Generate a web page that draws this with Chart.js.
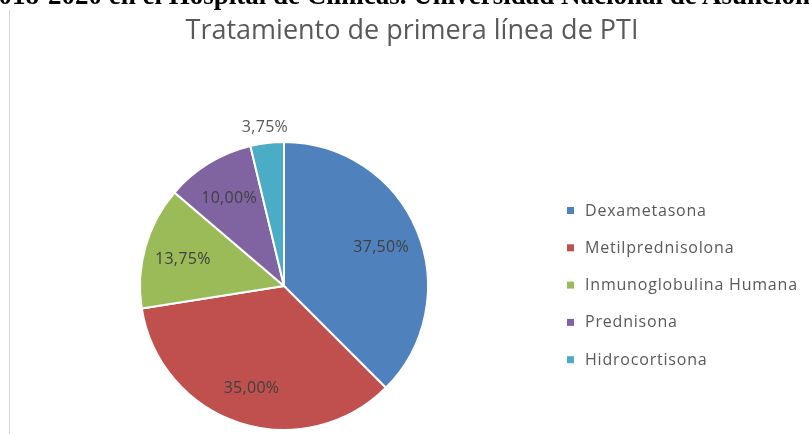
<!DOCTYPE html>
<html>
<head>
<meta charset="utf-8">
<script src="https://cdn.jsdelivr.net/npm/chart.js@4/dist/chart.umd.min.js"></script>
<style>
  html, body { margin: 0; padding: 0; background: #fff; overflow: hidden; }
  #wrap { position: relative; width: 809px; height: 434px; overflow: hidden; }
  #caption {
    position: absolute; left: -15px; top: -18px; white-space: nowrap;
    font-family: "Liberation Serif", "DejaVu Serif", serif; font-weight: bold;
    font-size: 27px; line-height: 26px; color: #000;
  }
  #rule { position: absolute; left: 9px; top: 10px; width: 1px; height: 424px; background: #d4d4d4; }
  canvas { position: absolute; left: 0; top: 0; }
</style>
</head>
<body>
<div id="wrap">
  <canvas id="chart" width="809" height="434"></canvas>
  <div id="rule"></div>
  <div id="caption">2018-2020 en el Hospital de Clínicas. Universidad Nacional de Asunción</div>
</div>
<script>
// data
const labels = ["Dexametasona", "Metilprednisolona", "Inmunoglobulina Humana", "Prednisona", "Hidrocortisona"];
const values = [37.5, 35.0, 13.75, 10.0, 3.75];
const colors = ["#4f81bd", "#c0504d", "#9bbb59", "#8064a2", "#4bacc6"];
const chartTitle = "Tratamiento de primera línea de PTI";

const FONT = '"Open Sans", "Noto Sans", sans-serif';

// title, legend and slice labels drawn by hand so they sit where excel put them
const extras = {
  id: 'extras',
  afterDraw(chart) {
    const ctx = chart.ctx;
    ctx.save();

    ctx.fillStyle = '#595959';
    ctx.font = '27px ' + FONT;
    ctx.textAlign = 'center';
    ctx.textBaseline = 'alphabetic';
    ctx.fillText(chartTitle, 412, 39);

    // legend
    ctx.font = '16px ' + FONT;
    ctx.letterSpacing = '0.8px';
    ctx.textAlign = 'left';
    ctx.textBaseline = 'middle';
    chart.data.labels.forEach((lab, i) => {
      const y = 211 + i * 37.3;
      ctx.fillStyle = colors[i];
      ctx.fillRect(567, y - 4, 7, 7);
      ctx.fillStyle = '#595959';
      ctx.fillText(lab, 585, y);
    });

    // data labels
    const meta = chart.getDatasetMeta(0);
    ctx.font = '16px ' + FONT;
    ctx.letterSpacing = '0.3px';
    ctx.textAlign = 'center';
    meta.data.forEach((arc, i) => {
      const p = arc.getProps(['x', 'y', 'startAngle', 'endAngle', 'outerRadius']);
      const mid = (p.startAngle + p.endAngle) / 2;
      const small = values[i] < 5;
      const r = small ? p.outerRadius + 18 : p.outerRadius * 0.73;
      const txt = values[i].toFixed(2).replace('.', ',') + '%';
      ctx.fillStyle = small ? '#595959' : '#404040';
      ctx.fillText(txt, p.x + Math.cos(mid) * r, p.y + Math.sin(mid) * r + 2);
    });
    ctx.restore();
  }
};

new Chart(document.getElementById('chart'), {
  type: 'pie',
  data: {
    labels: labels,
    datasets: [{
      data: values,
      backgroundColor: colors,
      borderColor: '#ffffff',
      borderWidth: 2
    }]
  },
  options: {
    responsive: false,
    animation: false,
    layout: { padding: { left: 139, right: 380, top: 141, bottom: 3 } },
    plugins: {
      legend: { display: false },
      title: { display: false },
      tooltip: { enabled: false }
    }
  },
  plugins: [extras]
});
</script>
</body>
</html>
